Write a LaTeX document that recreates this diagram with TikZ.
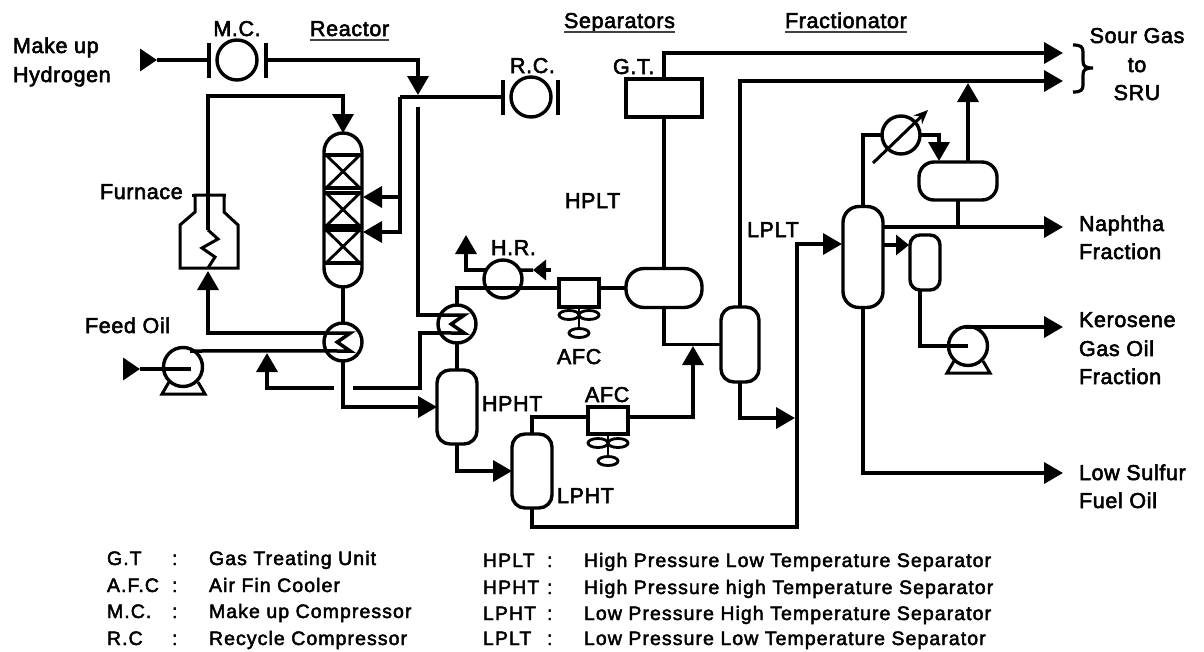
\documentclass[tikz,border=0pt]{standalone}
\usepackage{fontspec}
\usetikzlibrary{arrows.meta,calc}
\newfontfamily\labfont[LetterSpace=3,FakeBold=2.6]{Liberation Sans}
\newfontfamily\legfont[LetterSpace=5.5,FakeBold=2.4]{Liberation Sans}
\tikzset{
  pipe/.style={line width=3.5pt,line join=miter,draw=black},
  flow/.style={-{Triangle[length=19pt,width=21pt]}},
  smallflow/.style={-{Triangle[length=13pt,width=20pt]}},
  startflow/.style={-{Triangle[length=17pt,width=22pt]}},
  vessel/.style={draw=black,line width=3.4pt,fill=white,outer sep=0pt,inner sep=0pt,rounded corners=#1},
  vessel/.default=13pt,
  boxunit/.style={draw=black,line width=3.4pt,fill=white,outer sep=0pt,inner sep=0pt},
  ring/.style={circle,draw=black,line width=3.4pt,fill=white,outer sep=0pt,inner sep=0pt,minimum size=38pt},
  bar/.style={fill=black,outer sep=0pt,inner sep=0pt,minimum width=3.6pt,minimum height=35pt},
  fan/.style={ellipse,draw=black,line width=2.8pt,fill=white,minimum width=20pt,minimum height=9pt,inner sep=0pt,outer sep=0pt},
  lbl/.style={anchor=base west,inner sep=0pt,outer sep=0pt,font=\labfont\fontsize{21.5}{26}\selectfont},
  clbl/.style={lbl,anchor=base},
  leg/.style={anchor=base west,inner sep=0pt,outer sep=0pt,font=\legfont\fontsize{19.5}{24}\selectfont},
  uline/.style={line width=1.3pt,draw=black!75},
  shapeln/.style={line width=3pt,draw=black,line join=miter}
}
\usetikzlibrary{shapes.geometric}
\begin{document}
\begin{tikzpicture}[x=1pt,y=-1pt]
\useasboundingbox (0,0) rectangle (1204,651);
\fill[white] (0,0) rectangle (1204,651);

% ---- equipment
\node[ring,minimum size=40pt] (mc) at (237,60) {};
\node[bar] (mcl) at (209,60) {};
\node[bar] (mcr) at (266,60) {};
\node[ring,minimum size=40pt] (rc) at (531,97) {};
\node[bar] (rcl) at (503,97) {};
\node[bar] (rcr) at (558,97) {};

\node[vessel=19pt,minimum width=38pt,minimum height=154pt] (reactor) at (343,210) {};
\foreach \ya/\yb in {155/188,193/226,230/263}{
  \draw[line width=3.4pt] (324,\ya) -- (362,\ya) (324,\yb) -- (362,\yb);
  \draw[line width=2.8pt] (326,\ya) -- (360,\yb) (360,\ya) -- (326,\yb);
}

\coordinate (ftop) at (208,96);
\coordinate (fcoil) at (208,230);
\coordinate (fbot) at (208,268);
\draw[shapeln] (195,195) -- (224,195) -- (224,212) -- (238,225) -- (238,268) -- (180,268) -- (180,225) -- (195,212) -- cycle;
\draw[line width=3pt] (192,195) -- (195,195) (224,195) -- (226,195);

\node[ring] (e1) at (343,342) {};
\node[ring] (e2) at (457,324) {};
\node[ring,minimum size=39pt] (p1) at (183,367) {};
\node[ring] (hr) at (503,279) {};
\node[ring] (cond) at (901,135) {};
\node[ring,minimum size=39pt] (p2) at (968,346) {};

\node[vessel,minimum width=40pt,minimum height=74pt] (hpht) at (457,407) {};
\node[vessel,minimum width=40pt,minimum height=74pt] (lpht) at (532,471) {};
\node[vessel,minimum width=38pt,minimum height=75pt] (lplt) at (740,344.5) {};
\node[vessel=18pt,minimum width=76pt,minimum height=39pt] (hplt) at (664,288) {};
\node[boxunit,minimum width=76pt,minimum height=38pt] (gt) at (664,98) {};
\node[vessel=16pt,minimum width=40pt,minimum height=101pt] (frac) at (863,257) {};
\node[vessel=10pt,minimum width=30pt,minimum height=55pt] (strip) at (925,262.5) {};
\node[vessel=15pt,minimum width=78pt,minimum height=38pt] (drum) at (958,181) {};

\node[boxunit,minimum width=40pt,minimum height=28pt] (afca) at (579,293) {};
\node[boxunit,minimum width=40pt,minimum height=27pt] (afcb) at (608,420.5) {};
\coordinate (afcbw) at (588,417);
\coordinate (afcbe) at (628,417);

% fans
\draw[line width=2.8pt] (afca.south) -- (579,328);
\node[fan] (fa1) at (569,315) {};
\node[fan] (fa2) at (589,315) {};
\node[fan] (fa3) at (579,333) {};
\draw[line width=2.8pt] (afcb.south) -- (608,456);
\node[fan] (fb1) at (598,443) {};
\node[fan] (fb2) at (618,443) {};
\node[fan] (fb3) at (608,461) {};

% ---- named end points
\coordinate (h2in) at (140,60);
\coordinate (h2tip) at (157,60);
\coordinate (mcdrop) at (418,95);
\coordinate (rcj) at (400,97);
\coordinate (rtop) at (343,133);
\coordinate (ra) at (363,197);
\coordinate (rb) at (363,232);
\coordinate (rcv) at (400,197);
\coordinate (qt) at (418,107);
\coordinate (r1) at (420,388);
\coordinate (r2) at (353,388);
\coordinate (r3) at (334,388);
\coordinate (r4) at (267,353);
\coordinate (feed) at (123,369);
\coordinate (feedtip) at (140,369);
\coordinate (p1in) at (191,369);
\coordinate (p1out) at (190,351);
\coordinate (ftip) at (208,271);
\coordinate (hpltj) at (693,346);
\coordinate (sour1) at (1063,53);
\coordinate (sour2) at (1063,81);
\coordinate (drumtop) at (968,162);
\coordinate (sourj) at (968,83);
\coordinate (conddrop) at (939,161);
\coordinate (drumjn) at (958,227);
\coordinate (naphs) at (883,227);
\coordinate (naph) at (1063,227);
\coordinate (sides) at (883,245);
\coordinate (sidet) at (909,245);
\coordinate (stripo) at (920,290);
\coordinate (p2c) at (968,346);
\coordinate (p2o) at (965,327);
\coordinate (kero) at (1063,327);
\coordinate (fue) at (1063,473);
\coordinate (lpltd) at (795,418);
\coordinate (fv) at (797,527);
\coordinate (ff) at (842,244);
\coordinate (hr1) at (466,235);
\coordinate (hr2) at (551,270);
\coordinate (hr3) at (533,270);

% ---- connectors
\draw[pipe,startflow] (h2in) -- (h2tip);
\draw[pipe] (h2tip) -- (mcl);
\draw[pipe,flow] (mcr) -| (mcdrop);
\draw[pipe] (rcl) -- (rcj);
\draw[pipe,flow] (rcj) |- (rb);
\draw[pipe,flow] (rcv) -- (ra);
\draw[pipe,flow] (fcoil) -- (ftop) -| (rtop);
\draw[line width=3pt] (fcoil) -- (218,239) -- (202,248) -- (215,257) -- (fbot);

\draw[pipe] (reactor.south) -- (e1.north);
\draw[pipe,flow] (e1.152) -| (ftip);
\draw[pipe] (e1.152) -- ++(24,0) -- ++(-13,9) -- ++(13,9) -- (e1.208);
\draw[pipe,startflow] (feed) -- (feedtip);
\draw[pipe] (feedtip) -- (p1in);
\draw[pipe] (p1out) -- (e1.208);
\draw[pipe,flow] (e1.south) |- (hpht.west);

\draw[pipe] (qt) |- (e2.152);
\draw[pipe] (e2.152) -- ++(24,0) -- ++(-13,9) -- ++(13,9) -- (e2.208);
\draw[pipe] (e2.208) -| (r1) -- (r2);
\draw[pipe,flow] (r3) -| (r4);
\draw[pipe] (e2.south) -- (hpht.north);
\draw[pipe] (e2.north) |- (afca.west |- 0,288);
\draw[pipe] (afca.east |- 0,288) -- (hplt.west);
\draw[pipe,smallflow] (hr2) -- (hr3);
\draw[pipe] (hr3) -- (hr.28);
\draw[pipe,flow] (hr.152) -| (hr1);

\draw[pipe,flow] (hpht.south) |- (lpht.west);
\draw[pipe] (lpht.north) |- (afcbw);
\draw[pipe,flow] (afcbe) -| (hpltj);
\draw[pipe] (hplt.south) |- (lplt.west);
\draw[pipe] (hplt.north) -- (gt.south);
\draw[pipe,flow] (gt.north) |- (sour1);
\draw[pipe,flow] (lplt.north) |- (sour2);
\draw[pipe,flow] (lplt.south) |- (lpltd);
\draw[pipe,flow] (lpht.south) |- (fv) |- (ff);
\draw[pipe] (frac.north) |- (cond.west);
\draw[pipe,flow] (cond.east) -| (conddrop);
\draw[pipe,flow] (drumtop) -- (sourj);
\draw[pipe] (drum.south) -- (drumjn);
\draw[pipe,flow] (naphs) -- (naph);
\draw[pipe,smallflow] (sides) -- (sidet);
\draw[pipe] (stripo) |- (p2c);
\draw[pipe,flow] (p2o) -- (kero);
\draw[pipe,flow] (frac.south) |- (fue);

% condenser adjust arrow
\coordinate (cda) at (873,163);
\coordinate (cdb) at (928,110);
\draw[line width=3pt,-{Stealth[length=14pt,width=12pt]}] (cda) -- (cdb);

% pump bases
\draw[shapeln] ($(p1)+(-14,15)$) -- ($(p1)+(-21,27)$) -- ($(p1)+(22,27)$) -- ($(p1)+(15,15)$);
\draw[shapeln] ($(p2)+(-14,15)$) -- ($(p2)+(-21,27)$) -- ($(p2)+(22,27)$) -- ($(p2)+(15,15)$);

% brace
\draw[line width=3.2pt] (1073,45) .. controls (1081,45) and (1083,47) .. (1083,52) -- (1083,61) .. controls (1083,66) and (1085,68) .. (1093,68) .. controls (1085,68) and (1083,70) .. (1083,75) -- (1083,85) .. controls (1083,90) and (1081,92) .. (1073,92);

% ---- labels
\node[lbl] (t1) at (13,53) {Make up};
\node[lbl] (t2) at (13,82) {Hydrogen};
\node[clbl] (t3) at (237,36) {M.C.};
\node[lbl] (t4) at (310,36) {Reactor};
\draw[uline] ($(t4.base west)+(0,4)$) -- ($(t4.base east)+(0,4)$);
\node[lbl] (t5) at (564,28) {Separators};
\draw[uline] ($(t5.base west)+(0,4)$) -- ($(t5.base east)+(0,4)$);
\node[lbl] (t6) at (785,28) {Fractionator};
\draw[uline] ($(t6.base west)+(0,4)$) -- ($(t6.base east)+(0,4)$);
\node[lbl] (t7) at (510,73) {R.C.};
\node[lbl] (t8) at (613,74) {G.T.};
\node[clbl] (t9) at (1137,43) {Sour Gas};
\node[clbl] (t10) at (1137,72) {to};
\node[clbl] (t11) at (1137,100) {SRU};
\node[lbl] (t12) at (100,199) {Furnace};
\node[lbl] (t13) at (565,208) {HPLT};
\node[lbl] (t14) at (747,237) {LPLT};
\node[lbl] (t15) at (491,255) {H.R.};
\node[lbl] (t16) at (85,333) {Feed Oil};
\node[lbl] (t17) at (557,364) {AFC};
\node[lbl] (t18) at (585,402) {AFC};
\node[lbl] (t19) at (482,411) {HPHT};
\node[lbl] (t20) at (557,503) {LPHT};
\node[lbl] (t21) at (1079,231) {Naphtha};
\node[lbl] (t22) at (1079,259) {Fraction};
\node[lbl] (t23) at (1079,327) {Kerosene};
\node[lbl] (t24) at (1079,356) {Gas Oil};
\node[lbl] (t25) at (1079,384) {Fraction};
\node[lbl] (t26) at (1079,480) {Low Sulfur};
\node[lbl] (t27) at (1079,508) {Fuel Oil};

% ---- legend
\node[leg] (l1a) at (107,565) {G.T};
\node[leg] (l1b) at (172,565) {:};
\node[leg] (l1c) at (209,565) {Gas Treating Unit};
\node[leg] (l2a) at (107,592) {A.F.C};
\node[leg] (l2b) at (172,592) {:};
\node[leg] (l2c) at (209,592) {Air Fin Cooler};
\node[leg] (l3a) at (107,618) {M.C.};
\node[leg] (l3b) at (172,618) {:};
\node[leg] (l3c) at (209,618) {Make up Compressor};
\node[leg] (l4a) at (107,645) {R.C};
\node[leg] (l4b) at (172,645) {:};
\node[leg] (l4c) at (209,645) {Recycle Compressor};

\node[leg] (r1a) at (483,567) {HPLT};
\node[leg] (r1b) at (547,567) {:};
\node[leg] (r1c) at (584,567) {High Pressure Low Temperature Separator};
\node[leg] (r2a) at (483,594) {HPHT};
\node[leg] (r2b) at (547,594) {:};
\node[leg] (r2c) at (584,594) {High Pressure high Temperature Separator};
\node[leg] (r3a) at (483,620) {LPHT};
\node[leg] (r3b) at (547,620) {:};
\node[leg] (r3c) at (584,620) {Low Pressure High Temperature Separator};
\node[leg] (r4a) at (483,645) {LPLT};
\node[leg] (r4b) at (547,645) {:};
\node[leg] (r4c) at (584,645) {Low Pressure Low Temperature Separator};
\end{tikzpicture}
\end{document}
